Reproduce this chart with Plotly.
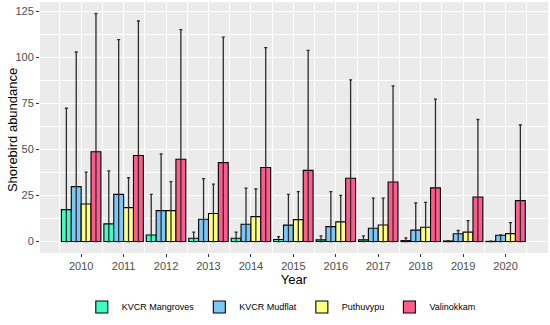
import plotly.graph_objects as go

years = [2010, 2011, 2012, 2013, 2014, 2015, 2016, 2017, 2018, 2019, 2020]
sites = ["KVCR Mangroves", "KVCR Mudflat", "Puthuvypu", "Valinokkam"]
colors = ["#3DFDC4", "#7CC7F7", "#FFFF85", "#FF5C8C"]

mangroves_mean = [17.3, 9.6, 3.6, 1.8, 1.8, 1.1, 0.9, 0.9, 0.5, 0.3, 0.1]
mangroves_top = [72.3, 38.3, 25.6, 5.1, 5.1, 2.7, 3.1, 3.1, 2.0, 0.5, 0.2]
mudflat_mean = [29.8, 25.6, 16.8, 12.1, 9.4, 8.9, 8.1, 7.2, 6.2, 4.2, 3.4]
mudflat_top = [102.8, 109.5, 47.6, 34.1, 29.0, 25.6, 27.1, 23.6, 20.9, 6.0, 3.6]
puthuvypu_mean = [20.4, 18.4, 16.8, 15.2, 13.5, 11.9, 10.7, 9.0, 7.8, 5.1, 4.3]
puthuvypu_top = [37.7, 34.6, 32.5, 31.1, 28.5, 27.1, 25.1, 23.6, 21.3, 11.4, 10.3]
valinokkam_mean = [48.7, 46.7, 44.6, 42.8, 40.2, 38.6, 34.3, 32.3, 29.1, 24.2, 22.2]
valinokkam_top = [123.6, 119.6, 114.9, 110.9, 105.2, 103.7, 87.7, 84.4, 77.2, 66.2, 63.2]

means = [mangroves_mean, mudflat_mean, puthuvypu_mean, valinokkam_mean]
tops = [mangroves_top, mudflat_top, puthuvypu_top, valinokkam_top]

y_ticks = [0, 25, 50, 75, 100, 125]

fig = go.Figure()
for name, col, m, t in zip(sites, colors, means, tops):
    fig.add_trace(go.Bar(
        x=years, y=m, name=name,
        marker=dict(color=col, line=dict(color="#000000", width=1.1)),
        error_y=dict(type="data", symmetric=False,
                     array=[a - b for a, b in zip(t, m)],
                     arrayminus=m,
                     color="#2b2b2b", thickness=1.3, width=1.5),
    ))

fig.update_layout(
    width=550, height=325,
    barmode="group", bargap=0.07, bargroupgap=0,
    paper_bgcolor="white", plot_bgcolor="#EBEBEB",
    margin=dict(l=40, r=2, t=2, b=72, autoexpand=False),
    font=dict(family="Liberation Sans, Arial, sans-serif", size=11, color="#4D4D4D"),
    showlegend=True,
    legend=dict(orientation="h", x=0.475, xanchor="center", y=-0.215, yanchor="middle",
                font=dict(size=9, color="#000000"), itemwidth=30,
                traceorder="normal"),
    annotations=[dict(text="Shorebird abundance", textangle=-90,
                      xref="paper", yref="paper", x=-0.055, y=0.49,
                      xanchor="center", yanchor="middle", showarrow=False,
                      font=dict(size=13, color="#000000"))],
)
fig.update_xaxes(
    range=[2009.03, 2021.0], automargin=False,
    tickmode="array", tickvals=years, ticktext=[str(y) for y in years],
    ticks="outside", ticklen=3, tickcolor="#333333", tickwidth=1,
    showgrid=True, gridcolor="white", gridwidth=1.1,
    minor=dict(tickmode="array", tickvals=[y - 0.5 for y in years] + [years[-1] + 0.5],
               showgrid=True, gridcolor="white", gridwidth=0.5, ticks=""),
    zeroline=False, showline=False,
    title=dict(text="Year", font=dict(size=13, color="#000000"), standoff=2),
    tickfont=dict(size=11, color="#4D4D4D"),
)
fig.update_yaxes(
    range=[-6.2, 129.9], automargin=False,
    tickmode="array", tickvals=y_ticks,
    ticks="outside", ticklen=3, tickcolor="#333333", tickwidth=1,
    showgrid=True, gridcolor="white", gridwidth=1.1,
    minor=dict(tickmode="array", tickvals=[12.5, 37.5, 62.5, 87.5, 112.5],
               showgrid=True, gridcolor="white", gridwidth=0.5, ticks=""),
    zeroline=False, showline=False,
    tickfont=dict(size=11, color="#4D4D4D"),
)

fig.write_html("out.html", config={"displayModeBar": False},
               post_script="document.body.style.margin='0';document.body.style.overflow='hidden';")
